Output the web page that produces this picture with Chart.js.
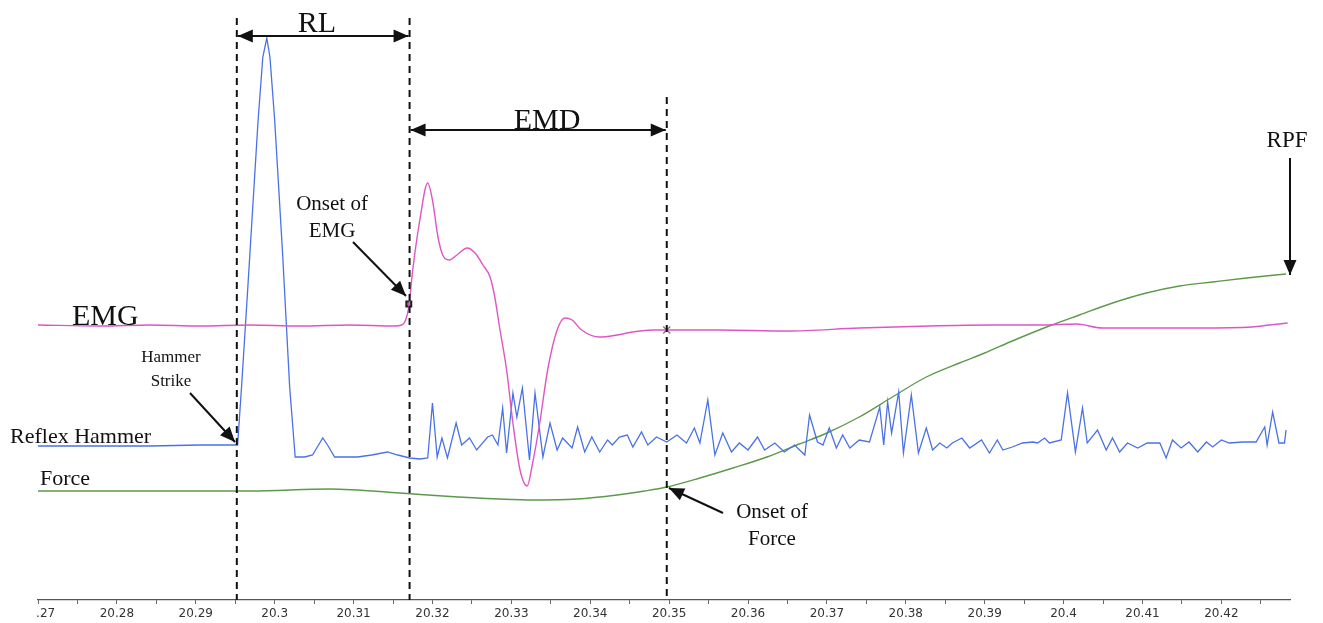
<!DOCTYPE html>
<html><head><meta charset="utf-8">
<script src="https://cdn.jsdelivr.net/npm/chart.js@4.4.0/dist/chart.umd.min.js"></script>
<style>html,body{margin:0;padding:0;background:#fff;overflow:hidden}#wrap{width:1323px;height:623px;position:relative}</style>
</head><body><div id="wrap"><canvas id="c" width="1323" height="623"></canvas></div>
<script>
// ---- data (time in s, signal in arbitrary display units) ----
const emgTime = [20.2700,20.2779,20.2842,20.2905,20.2969,20.3032,20.3095,20.3152,20.3161,20.3166,20.3170,20.3175,20.3184,20.3194,20.3200,20.3207,20.3213,20.3221,20.3231,20.3244,20.3254,20.3264,20.3273,20.3279,20.3285,20.3294,20.3302,20.3311,20.3320,20.3327,20.3336,20.3346,20.3358,20.3368,20.3377,20.3389,20.3412,20.3434,20.3454,20.3479,20.3497,20.3564,20.3649,20.3741,20.3830,20.3906,20.3970,20.4016,20.4049,20.4109,20.4172,20.4239,20.4261,20.4284];
const emgValue = [275,274,275,274,275,274,275,274,275,280,293,330,380,417,400,363,345,340,345,352,347,335,323,303,273,230,177,130,114,137,177,230,270,282,280,270,263,265,268,270,270,270,269,272,274,275,275,276,272,272,272,273,275,277];

const forceTime = [20.2700,20.2842,20.2969,20.3070,20.3159,20.3213,20.3285,20.3327,20.3383,20.3434,20.3469,20.3497,20.3539,20.3581,20.3624,20.3665,20.3700,20.3741,20.3783,20.3826,20.3868,20.3900,20.3935,20.3985,20.4020,20.4062,20.4105,20.4147,20.4189,20.4232,20.4282];
const forceValue = [109,109,109,111,107,104,101,100,101,105,109,113,122,132,143,156,167,183,203,223,237,247,259,275,285,297,307,314,318,322,326];

const hammerTime = [20.2700,20.2779,20.2842,20.2905,20.2947,20.2953,20.2958,20.2966,20.2979,20.2985,20.2990,20.2994,20.3000,20.3010,20.3019,20.3026,20.3038,20.3048,20.3061,20.3067,20.3076,20.3105,20.3123,20.3143,20.3156,20.3171,20.3184,20.3194,20.3200,20.3206,20.3212,20.3219,20.3230,20.3237,20.3247,20.3256,20.3270,20.3276,20.3283,20.3289,20.3294,20.3302,20.3307,20.3314,20.3323,20.3330,20.3340,20.3349,20.3358,20.3365,20.3377,20.3384,20.3393,20.3402,20.3412,20.3422,20.3428,20.3437,20.3447,20.3454,20.3465,20.3473,20.3484,20.3497,20.3510,20.3522,20.3532,20.3539,20.3549,20.3558,20.3568,20.3579,20.3589,20.3600,20.3612,20.3621,20.3634,20.3646,20.3659,20.3672,20.3678,20.3688,20.3695,20.3703,20.3712,20.3720,20.3729,20.3741,20.3754,20.3767,20.3772,20.3777,20.3782,20.3791,20.3797,20.3807,20.3816,20.3826,20.3834,20.3843,20.3852,20.3859,20.3871,20.3881,20.3896,20.3906,20.3916,20.3923,20.3935,20.3948,20.3961,20.3967,20.3976,20.3982,20.3997,20.4005,20.4015,20.4024,20.4030,20.4043,20.4054,20.4062,20.4071,20.4081,20.4094,20.4106,20.4122,20.4130,20.4138,20.4149,20.4159,20.4170,20.4181,20.4189,20.4200,20.4210,20.4227,20.4244,20.4255,20.4258,20.4265,20.4273,20.4280,20.4282];
const hammerValue = [154,154,154,155,155,155,213,313,480,543,562,543,480,347,213,143,143,145,162,155,143,143,145,148,145,142,141,142,197,143,162,142,177,155,162,150,163,165,155,192,147,207,183,212,140,207,143,177,150,162,152,173,148,163,148,160,155,163,165,153,168,155,163,158,165,157,172,157,200,145,167,148,157,150,163,150,157,148,155,145,185,158,155,172,152,165,152,160,158,193,155,198,167,208,147,205,147,172,150,157,152,157,162,152,160,147,160,150,153,157,158,157,162,157,160,207,148,192,157,170,150,162,148,157,152,157,157,142,160,152,158,148,158,153,160,157,158,158,173,155,188,157,157,170];

const markerTimes = [20.2952, 20.3171, 20.3497];      // dashed event lines
const onsetEmgPoint = [{x:20.3170, y:296}];
const onsetForcePoint = [{x:20.3497, y:270}];

const majorTicks = [20.27,20.28,20.29,20.30,20.31,20.32,20.33,20.34,20.35,20.36,20.37,20.38,20.39,20.40,20.41,20.42];
const tickLabels = ['20.27','20.28','20.29','20.3','20.31','20.32','20.33','20.34','20.35','20.36','20.37','20.38','20.39','20.4','20.41','20.42'];
const minorTicks = [20.275,20.285,20.295,20.305,20.315,20.325,20.335,20.345,20.355,20.365,20.375,20.385,20.395,20.405,20.415,20.425];

const pts = (ts, vs) => ts.map((t,i)=>({x:t, y:vs[i]}));

function head(c,x,y,ang,len,w){
  len = len||15; w = w||13;
  const ca=Math.cos(ang), sa=Math.sin(ang);
  c.beginPath();
  c.moveTo(x,y);
  c.lineTo(x-len*ca+w/2*sa, y-len*sa-w/2*ca);
  c.lineTo(x-len*ca-w/2*sa, y-len*sa+w/2*ca);
  c.closePath(); c.fill();
}
function arrow(c,x1,y1,x2,y2,both){
  const a=Math.atan2(y2-y1,x2-x1);
  c.beginPath(); c.moveTo(x1,y1); c.lineTo(x2,y2); c.stroke();
  head(c,x2,y2,a);
  if(both) head(c,x1,y1,a+Math.PI);
}

const annot = {
  id:'annot',
  beforeDraw(chart){ const c=chart.ctx; c.save(); c.beginPath(); c.rect(36,0,chart.width,chart.height); c.clip(); },
  afterDraw(chart){
    const c=chart.ctx; c.restore();
    const xs=chart.scales.x;
    const px = markerTimes.map(t=>xs.getPixelForValue(t));
    const base = chart.chartArea.bottom;
    c.save();
    c.strokeStyle='#111'; c.fillStyle='#111'; c.lineWidth=2;
    c.setLineDash([7,5]);
    const tops=[18,18,97];
    px.forEach((x,i)=>{ c.beginPath(); c.moveTo(x,tops[i]); c.lineTo(x,base); c.stroke(); });
    c.setLineDash([]);
    // double arrows
    arrow(c, px[0]+1, 36, px[1]-1, 36, true);
    arrow(c, px[1]+1, 130, px[2]-1, 130, true);
    // single arrows
    arrow(c, 190, 393, 235, 442);
    arrow(c, 353, 242, 406, 296);
    arrow(c, 723, 513, 669, 488);
    arrow(c, 1290, 158, 1290, 275);
    // texts
    c.textBaseline='alphabetic';
    c.font='30px "Liberation Serif"'; c.textAlign='center';
    c.fillText('RL', 317, 32);
    c.fillText('EMD', 547, 129);
    c.textAlign='left';
    c.fillText('EMG', 72, 325);
    c.font='23px "Liberation Serif"'; c.textAlign='center';
    c.fillText('RPF', 1287, 147);
    c.font='21px "Liberation Serif"';
    c.fillText('Onset of', 332, 210);
    c.fillText('EMG', 332, 237);
    c.fillText('Onset of', 772, 518);
    c.fillText('Force', 772, 545);
    c.font='17px "Liberation Serif"';
    c.fillText('Hammer', 171, 362);
    c.fillText('Strike', 171, 386);
    c.font='22px "Liberation Serif"'; c.textAlign='left';
    c.fillText('Reflex Hammer', 10, 443);
    c.fillText('Force', 40, 485);
    c.restore();
  }
};

new Chart(document.getElementById('c'), {
  type:'line',
  data:{datasets:[
    {label:'EMG', data:pts(emgTime,emgValue), borderColor:'#df55c4', borderWidth:1.4, pointRadius:0, cubicInterpolationMode:'monotone', fill:false},
    {label:'Reflex Hammer', data:pts(hammerTime,hammerValue), borderColor:'#4a72e6', borderWidth:1.3, pointRadius:0, tension:0, fill:false},
    {label:'Force', data:pts(forceTime,forceValue), borderColor:'#5c9a4a', borderWidth:1.4, pointRadius:0, cubicInterpolationMode:'monotone', fill:false},
    {label:'Onset of EMG', data:onsetEmgPoint, showLine:false, pointStyle:'rect', pointRadius:3.5, borderColor:'#222', backgroundColor:'#888', borderWidth:2},
    {label:'Onset of Force', data:onsetForcePoint, showLine:false, pointStyle:'crossRot', pointRadius:5, borderColor:'#777', borderWidth:1.3}
  ]},
  options:{
    responsive:false, animation:false, events:[],
    layout:{padding:{left:38,right:33,top:20,bottom:0}},
    plugins:{legend:{display:false}, tooltip:{enabled:false}},
    scales:{
      x:{type:'linear', min:20.27, max:20.4287,
        afterBuildTicks:(s)=>{ s.ticks = majorTicks.concat(minorTicks).sort((a,b)=>a-b).map(v=>({value:v})); },
        afterFit:(s)=>{ s.height = 23; },
        ticks:{autoSkip:false, maxRotation:0, minRotation:0, padding:3, color:'#333', font:{family:'DejaVu Sans', size:12}, 
          callback:(v)=>{ const k=majorTicks.findIndex(m=>Math.abs(m-v)<1e-6); return k>=0 ? tickLabels[k] : ''; }},
        grid:{drawOnChartArea:false, drawTicks:true, tickLength:4, color:'#666'},
        border:{display:true, color:'#555', width:1.2}
      },
      y:{display:false, min:0, max:580}
    }
  },
  plugins:[annot]
});
</script>
</body></html>
